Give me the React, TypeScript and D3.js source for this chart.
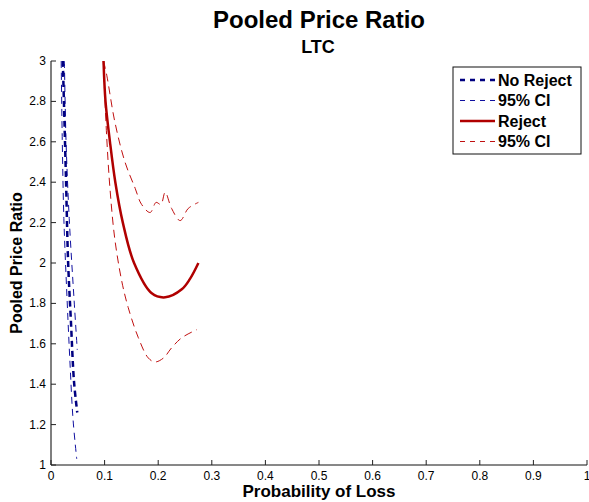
import React, { useEffect, useRef } from 'react'
import * as d3 from 'd3'

// No Reject (blue)
const noRejectX = [0.022, 0.024, 0.028, 0.032, 0.037, 0.043, 0.049]
const noRejectY = [3.0, 2.81, 2.41, 2.0, 1.72, 1.41, 1.26]
const noRejectLoX = [0.019, 0.021, 0.024, 0.030, 0.035, 0.041, 0.048]
const noRejectLoY = [3.0, 2.61, 2.22, 1.82, 1.53, 1.23, 1.03]
const noRejectHiX = [0.025, 0.028, 0.034, 0.043, 0.049]
const noRejectHiY = [3.0, 2.61, 2.22, 1.82, 1.57]

// Reject (red)
const rejectX = [0.098, 0.1017, 0.110, 0.120, 0.134, 0.155, 0.188, 0.213, 0.244, 0.259, 0.275]
const rejectY = [3.0, 2.8, 2.6, 2.4, 2.2, 2.0, 1.85, 1.83, 1.87, 1.92, 2.0]
const rejectLoX = [0.0976, 0.104, 0.110, 0.119, 0.132, 0.144, 0.163, 0.1815, 0.194, 0.210, 0.225, 0.244, 0.272]
const rejectLoY = [3.0, 2.62, 2.37, 2.12, 1.91, 1.78, 1.63, 1.53, 1.51, 1.53, 1.58, 1.63, 1.67]
const rejectHiX = [0.098, 0.104, 0.119, 0.138, 0.157, 0.169, 0.185, 0.196, 0.205, 0.213, 0.225, 0.241, 0.256, 0.275]
const rejectHiY = [3.0, 2.93, 2.70, 2.50, 2.37, 2.29, 2.25, 2.30, 2.29, 2.35, 2.27, 2.21, 2.27, 2.30]

const xTicks = [0, 0.1, 0.2, 0.3, 0.4, 0.5, 0.6, 0.7, 0.8, 0.9, 1]
const yTicks = [1, 1.2, 1.4, 1.6, 1.8, 2, 2.2, 2.4, 2.6, 2.8, 3]

const legendLabels = ['No Reject', '95% CI', 'Reject', '95% CI']

const FONT = '"Liberation Sans", Arial, Helvetica, sans-serif'

export default function App() {
  const ref = useRef<SVGSVGElement>(null)

  useEffect(() => {
    const svg = d3.select(ref.current)
    svg.selectAll('*').remove()

    const left = 51, right = 587, top = 61, bottom = 465
    const x = d3.scaleLinear().domain([0, 1]).range([left, right])
    const y = d3.scaleLinear().domain([1, 3]).range([bottom, top])

    svg.append('defs').append('clipPath').attr('id', 'plot-clip')
      .append('rect').attr('x', left).attr('y', top - 1)
      .attr('width', right - left).attr('height', bottom - top + 1)

    const line = d3.line<[number, number]>()
      .x((d) => x(d[0]))
      .y((d) => y(d[1]))
      .curve(d3.curveCatmullRom.alpha(0.5))

    const zip = (a: number[], b: number[]) => a.map((v, i) => [v, b[i]] as [number, number])

    const series = [
      { d: zip(noRejectLoX, noRejectLoY), color: '#1010a0', w: 1, dash: '7,5' },
      { d: zip(noRejectHiX, noRejectHiY), color: '#1010a0', w: 1, dash: '7,5' },
      { d: zip(noRejectX, noRejectY), color: '#000080', w: 2.5, dash: '6,4' },
      { d: zip(rejectLoX, rejectLoY), color: '#c01010', w: 1, dash: '8,5' },
      { d: zip(rejectHiX, rejectHiY), color: '#c01010', w: 1, dash: '8,5' },
      { d: zip(rejectX, rejectY), color: '#b00000', w: 2.5, dash: null },
    ]

    const g = svg.append('g').attr('clip-path', 'url(#plot-clip)')
    series.forEach((s) => {
      g.append('path')
        .attr('d', line(s.d))
        .attr('fill', 'none')
        .attr('stroke', s.color)
        .attr('stroke-width', s.w)
        .attr('stroke-dasharray', s.dash)
    })

    // axes
    const ax = svg.append('g')
    ax.append('line').attr('x1', left).attr('x2', left).attr('y1', top).attr('y2', bottom)
      .attr('stroke', '#555').attr('stroke-width', 1.5)
    ax.append('line').attr('x1', left).attr('x2', right).attr('y1', bottom).attr('y2', bottom)
      .attr('stroke', '#111').attr('stroke-width', 1)

    xTicks.forEach((t) => {
      ax.append('line').attr('x1', x(t)).attr('x2', x(t)).attr('y1', bottom).attr('y2', bottom - 5)
        .attr('stroke', '#222')
      ax.append('text').attr('x', x(t)).attr('y', bottom + 15)
        .attr('text-anchor', 'middle').attr('font-size', 12).attr('font-family', FONT)
        .text(String(t))
    })
    yTicks.forEach((t) => {
      ax.append('line').attr('x1', left).attr('x2', left + 5).attr('y1', y(t)).attr('y2', y(t))
        .attr('stroke', '#222')
      ax.append('text').attr('x', left - 5).attr('y', y(t) + 4)
        .attr('text-anchor', 'end').attr('font-size', 12).attr('font-family', FONT)
        .text(String(t))
    })

    // titles
    svg.append('text').attr('x', 319).attr('y', 28).attr('text-anchor', 'middle')
      .attr('font-size', 24).attr('font-weight', 'bold').attr('font-family', FONT)
      .text('Pooled Price Ratio')
    svg.append('text').attr('x', 318).attr('y', 53).attr('text-anchor', 'middle')
      .attr('font-size', 18).attr('font-weight', 'bold').attr('font-family', FONT)
      .text('LTC')
    svg.append('text').attr('x', (left + right) / 2).attr('y', 497).attr('text-anchor', 'middle')
      .attr('font-size', 17).attr('font-weight', 'bold').attr('font-family', FONT)
      .text('Probability of Loss')
    svg.append('text')
      .attr('transform', `translate(22, ${(top + bottom) / 2}) rotate(-90)`)
      .attr('text-anchor', 'middle')
      .attr('font-size', 16).attr('font-weight', 'bold').attr('font-family', FONT)
      .text('Pooled Price Ratio')

    // legend
    const lg = svg.append('g').attr('transform', 'translate(453, 67)')
    lg.append('rect').attr('x', 0).attr('y', 0).attr('width', 128).attr('height', 87)
      .attr('fill', 'white').attr('stroke', '#111').attr('stroke-width', 1)
    legendLabels.forEach((lab, i) => {
      const s = [series[2], series[0], series[5], series[3]][i]
      const yy = 13 + i * 20.5
      lg.append('line').attr('x1', 7).attr('x2', 42).attr('y1', yy).attr('y2', yy)
        .attr('stroke', s.color).attr('stroke-width', s.w).attr('stroke-dasharray', s.dash ? '5,5' : null)
      lg.append('text').attr('x', 45).attr('y', yy + 5.5)
        .attr('font-size', 16).attr('font-weight', 'bold').attr('font-family', FONT)
        .text(lab)
    })
  }, [])

  return (
    <svg
      ref={ref}
      width={589}
      height={502}
      style={{ position: 'absolute', left: 0, top: 0, background: 'white' }}
    />
  )
}
